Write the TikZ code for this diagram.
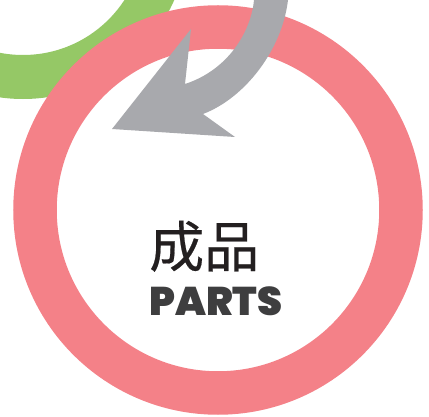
\documentclass[tikz,border=0pt]{standalone}
\usepackage{fontspec}
\newfontfamily\cjkfont{Noto Sans CJK SC}[FakeBold=0.4]
\newfontfamily\partsfont{Poppins Black}
\definecolor{ringpink}{HTML}{F48188}
\definecolor{ringgreen}{HTML}{95C866}
\definecolor{arrowgray}{HTML}{A8A9AD}
\definecolor{textdark}{HTML}{231F20}
\definecolor{partsgray}{HTML}{3E3E3F}
\begin{document}
\begin{tikzpicture}[x=1pt, y=-1pt]
\clip (0,0) rectangle (429,417);
\fill[white] (0,0) rectangle (429,417);
\draw[ringgreen, line width=44pt] (23,-66) circle (143);
\draw[ringpink, line width=43.5pt] (218,210) circle (183);
\fill[arrowgray] (254,0) .. controls (251,32) and (228,70) .. (185,84) -- (191,29) -- (112,129) -- (235,137) -- (203,114) .. controls (245,98) and (282,50) .. (288,0) -- cycle;
\node[font=\cjkfont\fontsize{55}{60}\selectfont, text=textdark, anchor=base west, inner sep=0pt] at (149,267) (cn) {成品};
\node[font=\partsfont\fontsize{40}{44}\selectfont, text=partsgray, anchor=base west, inner sep=0pt] at (149,315.5) (parts) {PARTS};
\end{tikzpicture}
\end{document}
